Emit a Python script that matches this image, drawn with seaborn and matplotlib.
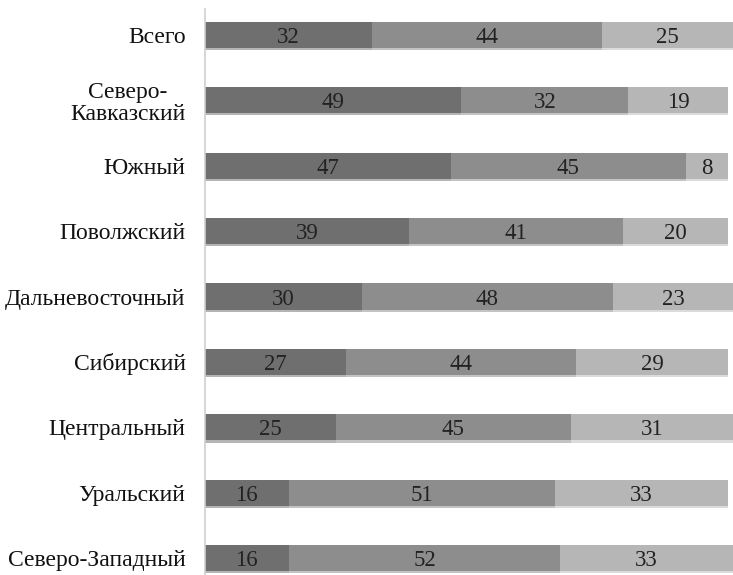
import numpy as np
import pandas as pd
import matplotlib
matplotlib.use("Agg")
import matplotlib.pyplot as plt
import matplotlib.patheffects as pe
import seaborn as sns

regions = ["Всего", "Северо-\nКавказский", "Южный", "Поволжский",
           "Дальневосточный", "Сибирский", "Центральный", "Уральский",
           "Северо-Западный"]
part_a = [32, 49, 47, 39, 30, 27, 25, 16, 16]
part_b = [44, 32, 45, 41, 48, 44, 45, 51, 52]
part_c = [25, 19, 8, 20, 23, 29, 31, 33, 33]

colors = ["#6f6f6f", "#8d8d8d", "#b6b6b6"]

sns.set_theme(style="white")
plt.rcParams["font.family"] = ["Liberation Serif", "DejaVu Serif"]

df = pd.DataFrame({"region": regions, "a": part_a, "b": part_b, "c": part_c})
df["ab"] = df["a"] + df["b"]
df["abc"] = df["ab"] + df["c"]

fig = plt.figure(figsize=(7.33, 5.75), dpi=100)
ax = fig.add_axes([205 / 733, -16 / 575, 528 / 733, 589 / 575])

shadow = [pe.SimplePatchShadow(offset=(0, -1.5), shadow_rgbFace="#999999", alpha=0.35),
          pe.Normal()]

# stacked bars: draw cumulative totals from the longest to the shortest
for col, color in zip(["abc", "ab", "a"], colors[::-1]):
    sns.barplot(data=df, y="region", x=col, orient="h", color=color,
                width=0.4, saturation=1, linewidth=0, ax=ax)

for p in ax.patches:
    p.set_path_effects(shadow)

# segment value labels
starts = np.column_stack([np.zeros(len(df)), df["a"], df["ab"]])
widths = np.column_stack([df["a"], df["b"], df["c"]])
for i in range(len(df)):
    for j in range(3):
        ax.text(starts[i, j] + widths[i, j] / 2, i, str(widths[i, j]),
                ha="center", va="center_baseline", fontsize=16.5, color="#222222")

ax.set_xlim(0, 101)
ax.set_ylim(len(df) - 0.5, -0.5)
ax.set_xlabel("")
ax.set_ylabel("")
ax.set_xticks([])
ax.tick_params(axis="y", length=0, pad=14, labelsize=17, labelcolor="#111111")
for lbl in ax.get_yticklabels():
    lbl.set_multialignment("center")
    lbl.set_linespacing(1.1)

for side in ["top", "right", "bottom"]:
    ax.spines[side].set_visible(False)
ax.spines["left"].set_color("#cfcfcf")
ax.spines["left"].set_linewidth(1.2)
ax.spines["left"].set_bounds(len(df) - 0.5, -0.4)

fig.savefig("out.png", dpi=100, facecolor="white")
